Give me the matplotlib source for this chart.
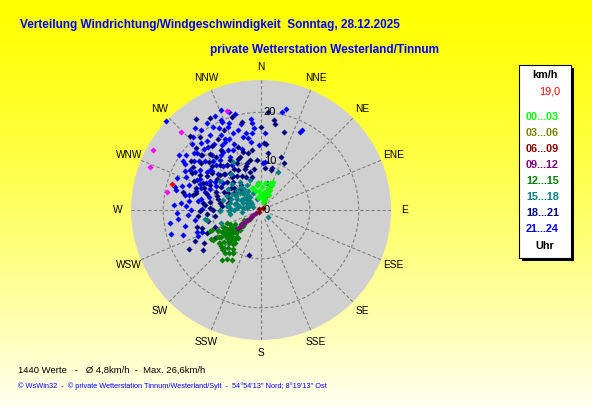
import numpy as np
import matplotlib
matplotlib.use('Agg')
import matplotlib.pyplot as plt
from matplotlib.patches import Rectangle

# wind direction (deg, compass) and speed (km/h), grouped by hour of day
dir_0003 = [350, 2, 19, 23, 15, 16, 340, 349, 337, 356, 20, 10, 25, 8, 27, 355, 12, 22,
            5, 18, 346, 0, 24]
spd_0003 = [5.2, 4.8, 4.7, 5.6, 3.2, 1.8, 4.7, 2.8, 4.8, 5.5, 4.0, 3.8, 4.5, 5.5, 3.5, 3.8, 2.5, 2.2,
            2.5, 5.8, 4.0, 3.2, 6.2]

dir_0306 = [20, 20, 21, 19, 22, 18]
spd_0306 = [1.5, 2.5, 3.5, 4.5, 5.0, 3.0]

dir_0609 = [300, 45, 230]
spd_0609 = [0.4, 0.6, 0.5]

dir_0912 = [237, 232, 233, 235, 231, 234, 236, 233]
spd_0912 = [1.9, 3.3, 4.5, 2.6, 5.2, 3.9, 1.2, 6.0]

dir_1215 = [235, 235, 238, 223, 213, 245, 222, 232, 249, 248, 239, 241, 210, 226, 220, 213,
            231, 240, 248, 228, 230, 233, 237, 240, 243, 226, 224, 218, 216, 229, 236, 242,
            232, 236, 230, 234, 238, 227, 221, 219, 245, 233, 225, 240, 246, 228, 215, 218,
            238, 231, 231, 226, 235, 237, 222, 229, 234, 241, 224, 217, 232, 236, 228, 244,
            220]
spd_1215 = [7.7, 3.6, 11.5, 11.3, 10.5, 9.7, 7.4, 5.5, 7.5, 10.9, 10.6, 9.2, 11.9, 11.2, 11.6, 10.6,
            10.8, 11.8, 11.3, 8.0, 9.0, 6.5, 8.5, 7.0, 8.2, 6.0, 9.5, 8.5, 9.8, 10.0, 9.8, 6.0,
            4.5, 5.0, 3.0, 2.2, 4.0, 7.0, 10.2, 7.5, 7.0, 8.8, 8.6, 9.0, 8.6, 11.0, 12.2, 13.0,
            6.5, 7.6, 8.5, 9.0, 9.0, 10.2, 8.0, 6.4, 7.0, 8.0, 10.8, 11.0, 11.0, 7.5, 5.0, 9.8,
            9.0]

dir_1518 = [300, 285, 320, 275, 273, 293, 308, 312, 270, 260, 132, 354, 12, 24, 330, 323,
            268, 261, 290, 295, 305, 310, 315, 280, 283, 298, 288, 302, 278, 318, 325, 330,
            335, 340, 270, 265, 292, 303, 310, 340, 262, 285, 252, 305, 320,
            287, 297, 307, 313, 282, 277, 300, 312, 322, 290, 296, 305, 275, 268, 318]
spd_1518 = [3.4, 5.2, 3.5, 3.6, 6.4, 1.7, 5.5, 8.1, 8.4, 11.3, 2.0, 5.5, 5.6, 8.6, 11.4, 7.2,
            8.4, 11.5, 4.0, 5.5, 4.2, 3.0, 5.0, 4.5, 6.5, 6.8, 2.5, 2.2, 2.8, 6.2, 4.8, 5.8,
            3.8, 6.5, 5.5, 4.0, 7.5, 8.0, 6.5, 2.5, 6.5, 8.0, 8.5, 10.2, 9.5,
            3.0, 4.5, 3.5, 4.0, 5.5, 7.0, 5.8, 5.2, 5.5, 6.5, 3.0, 6.0, 5.0, 6.5, 4.0]

dir_1821 = [324.6, 8.4, 9.3, 16.7, 340, 343, 338.5, 2.9, 7.4, 21, 26, 347, 348, 343, 355, 344,
            15, 4, 14, 5.5, 313.8, 312.8, 302.6, 320, 283, 269, 282.5, 275, 235, 242, 194.5, 253,
            300, 305, 310, 315, 320, 325, 330, 335, 328, 318, 312, 306, 296, 292, 287, 284,
            279, 276, 295, 300, 322, 316, 333, 338, 345, 350, 352, 290, 282, 262, 258, 250,
            270, 308, 298, 326, 285, 265, 247, 240, 320, 316, 331, 335, 343, 348, 0, 4,
            302, 307, 311, 314, 318, 323, 327, 331, 336, 341, 296, 291, 288, 280, 277, 272,
            266, 297, 303, 309, 313, 318, 323, 329, 305, 293, 289, 255, 245, 238]
spd_1821 = [22.8, 18.6, 17.8, 16.6, 13.8, 12.5, 11.7, 13.7, 11.7, 11.7, 10.8, 11.9, 10.5, 10.0, 10.3, 8.0,
            8.8, 13.6, 8.4, 8.6, 18.3, 16.6, 16.5, 14.2, 16.4, 12.5, 14.2, 11.5, 14.4, 16.8, 9.5, 12.7,
            9.5, 11.0, 9.0, 8.0, 10.0, 8.5, 9.5, 7.5, 12.0, 12.5, 13.5, 7.5, 8.5, 10.0, 11.5, 9.0,
            10.5, 8.0, 13.0, 14.5, 6.5, 6.0, 10.8, 9.0, 7.0, 8.5, 12.5, 7.0, 6.8, 9.5, 11.0, 10.0,
            9.8, 15.5, 16.0, 14.8, 13.8, 13.0, 12.0, 13.5, 19.5, 21.0, 21.5, 18.0, 20.0, 18.5, 17.0, 20.2,
            13.0, 12.5, 11.0, 10.5, 9.0, 11.5, 10.0, 8.0, 11.5, 9.5, 11.5, 12.5, 9.5, 8.5, 12.0, 10.5,
            11.0, 7.5, 6.5, 7.0, 14.5, 15.5, 16.5, 17.0, 17.5, 15.0, 14.0, 13.5, 15.0, 11.0]

dir_2124 = [313, 338, 345, 336, 333, 338.6, 340, 344, 346, 350, 354, 354, 355, 353, 358, 3,
            2, 5, 12, 14, 26.5, 27.3, 332, 332, 327, 321, 323, 317, 323, 330, 336, 304,
            301, 299, 320, 325, 318, 311, 315, 308, 285, 283, 281, 282, 273, 268, 273, 262,
            255, 261, 270, 251, 250, 248, 305, 310, 300, 295, 290, 298, 305, 315, 320, 327,
            330, 335, 338, 343, 329, 312, 308, 303, 294, 289, 286, 280, 277, 292, 318, 322,
            326, 333, 316, 309, 302, 296,
            310, 306, 300, 297, 293, 288, 284, 278, 275, 271, 266, 264, 258, 252, 314, 321,
            328, 334, 340, 342, 347, 349, 352, 306, 302, 297, 291, 287, 319, 324, 331, 336,
            313, 317]
spd_2124 = [26.6, 22.0, 20.4, 20.1, 18.9, 18.3, 16.7, 17.0, 15.3, 14.9, 18.8, 17.9, 16.9, 15.8, 13.3, 15.7,
            9.6, 9.8, 20.5, 21.3, 17.9, 18.4, 17.4, 15.8, 14.2, 13.2, 11.6, 20.5, 20.4, 19.7, 19.6, 20.3,
            18.1, 16.7, 16.9, 16.6, 15.1, 15.2, 12.9, 13.3, 18.3, 17.8, 15.9, 15.0, 17.8, 17.1, 15.3, 18.8,
            19.0, 13.7, 14.3, 13.9, 12.9, 14.0, 13.5, 11.5, 12.0, 14.5, 13.0, 10.5, 9.5, 10.5, 9.0, 11.0,
            12.5, 13.5, 14.5, 13.0, 15.5, 17.5, 16.2, 15.0, 16.8, 15.5, 13.8, 12.5, 14.8, 11.2, 18.5, 17.8,
            18.6, 16.3, 14.0, 12.8, 11.0, 12.6,
            18.0, 17.0, 15.5, 14.0, 13.5, 12.0, 11.0, 13.0, 16.5, 12.0, 15.0, 17.0, 16.0, 16.8, 19.5, 21.5,
            21.0, 21.5, 19.0, 21.0, 18.0, 16.0, 14.0, 19.0, 18.8, 17.5, 18.5, 17.0, 12.0, 13.8, 14.0, 16.0,
            16.5, 17.0]

# highlighted points (magenta) and current value (red)
dir_mark = [314.4, 299, 291.3, 341.2, 281]
spd_mark = [22.9, 25.3, 24.4, 21.4, 19.6]
dir_now = [286.5]
spd_now = [19.0]

hour_labels = ['00...03', '03...06', '06...09', '09...12', '12...15', '15...18', '18...21', '21...24']
hour_colors = ['#00ff00', '#808000', '#800000', '#800080', '#008000', '#008080', '#000080', '#0000ff']
compass = ['N', 'NNE', 'NE', 'ENE', 'E', 'ESE', 'SE', 'SSE',
           'S', 'SSW', 'SW', 'WSW', 'W', 'WNW', 'NW', 'NNW']
ring_values = [0, 10, 20]
r_max = 26.6
now_label = '19,0'

groups = [(dir_0003, spd_0003), (dir_0306, spd_0306), (dir_0609, spd_0609), (dir_0912, spd_0912),
          (dir_1215, spd_1215), (dir_1518, spd_1518), (dir_1821, spd_1821), (dir_2124, spd_2124)]

fig = plt.figure(figsize=(5.92, 4.07), dpi=100)
W, H = 592, 407
font = 'Liberation Sans'
msize = 3.1

# yellow background gradient
bg = fig.add_axes([0, 0, 1, 1])
grad = np.linspace(0, 1, 256) ** 1.3
img = np.ones((256, 1, 3))
img[:, 0, 2] = grad * 0.94
bg.imshow(img, aspect='auto', extent=[0, 1, 0, 1], origin='upper')
bg.set_xlim(0, 1)
bg.set_ylim(0, 1)
bg.axis('off')

# polar wind plot
ax = fig.add_axes([131 / W, 67 / H, 260 / W, 260 / H], projection='polar')
ax.set_theta_zero_location('N')
ax.set_theta_direction(-1)
ax.set_ylim(0, r_max)
ax.set_facecolor('#d0d0d0')
ax.spines['polar'].set_visible(False)
ax.grid(False)
ax.set_xticks([])
ax.set_yticks([])

th_full = np.linspace(0, 2 * np.pi, 361)
for rv in ring_values[1:]:
    ax.plot(th_full, np.full_like(th_full, rv), color='#808080', lw=0.8, ls=(0, (3, 2)))
for i, name in enumerate(compass):
    th = np.deg2rad(i * 22.5)
    ax.plot([th, th], [2, r_max], color='#808080', lw=0.8, ls=(0, (3, 2)))
    ax.text(th, 29.3, name, ha='center', va='center', fontsize=7.3, family=font, clip_on=False)
for rv in ring_values:
    ax.annotate(str(rv), xy=(0, rv), xytext=(2, 0), textcoords='offset points',
                ha='left', va='center', fontsize=8, family=font, zorder=5)

# later hours underneath, earlier hours on top
for (d, s), c in reversed(list(zip(groups, hour_colors))):
    ax.plot(np.deg2rad(d), s, 'D', color=c, ms=msize, mew=0, clip_on=False)
ax.plot(np.deg2rad(dir_mark), spd_mark, 'D', color='#ff00ff', ms=msize, mew=0, clip_on=False)
ax.plot(np.deg2rad(dir_now), spd_now, 'D', color='#ff0000', ms=msize, mew=0, clip_on=False)

# legend box with shadow
bg.add_patch(Rectangle((522 / W, 1 - 261 / H), 52 / W, 193 / H, facecolor='black', edgecolor='none'))
bg.add_patch(Rectangle((519 / W, 1 - 258 / H), 52 / W, 193 / H, facecolor='white',
                       edgecolor='black', lw=0.8))
bg.text(545 / W, 1 - 75 / H, 'km/h', ha='center', va='center', fontsize=7.8, weight='bold',
        family=font)
bg.text(560 / W, 1 - 91 / H, now_label, ha='right', va='center', fontsize=7.8, color='red',
        family=font)
for i, (lab, c) in enumerate(zip(hour_labels, hour_colors)):
    bg.text(526 / W, 1 - (117 + 16 * i) / H, lab, ha='left', va='center', fontsize=7.8,
            weight='bold', color=c, family=font)
bg.text(545 / W, 1 - 246 / H, 'Uhr', ha='center', va='center', fontsize=7.8, weight='bold',
        family=font)

# titles
bg.text(20 / W, 1 - 25 / H, 'Verteilung Windrichtung/Windgeschwindigkeit  Sonntag, 28.12.2025',
        ha='left', va='center', fontsize=8.5, weight='bold', color='#0000ff', family=font)
bg.text(210 / W, 1 - 50 / H, 'private Wetterstation Westerland/Tinnum',
        ha='left', va='center', fontsize=8.5, weight='bold', color='#0000ff', family=font)

bg.text(18 / W, 1 - 370 / H, '1440 Werte   -   \u00d8 4,8km/h  -  Max. 26,6km/h',
        ha='left', va='center', fontsize=6.8, family=font)
bg.text(18 / W, 1 - 386 / H,
        '\u00a9 WsWin32  -  \u00a9 private Wetterstation Tinnum/Westerland/Sylt  -  '
        '54\u00b054\'13\'\' Nord; 8\u00b019\'13\'\' Ost',
        ha='left', va='center', fontsize=5.3, color='#0000ff', family=font)

plt.savefig('out.png', dpi=100)
